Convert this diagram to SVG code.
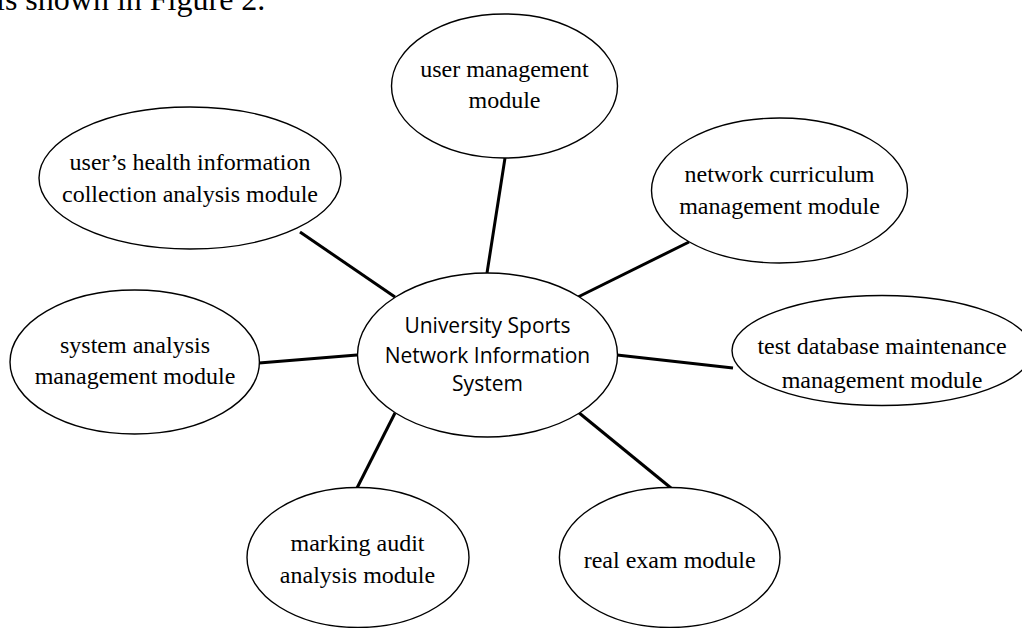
<svg xmlns="http://www.w3.org/2000/svg" width="1022" height="628" viewBox="0 0 1022 628">
  <style>
    .node { fill: #ffffff; stroke: #000000; stroke-width: 1.4; }
    .label { font-family: "Liberation Serif", "Times New Roman", serif; font-size: 24px; fill: #000000; text-anchor: middle; }
    .hub { font-family: "Open Sans", "Noto Sans", sans-serif; font-size: 21px; fill: #000000; text-anchor: middle; }
    .link { stroke: #000000; stroke-width: 3; fill: none; stroke-linecap: butt; }
    .body { font-family: "Liberation Serif", "Times New Roman", serif; font-size: 32px; fill: #000000; }
  </style>
  <rect x="0" y="0" width="1022" height="628" fill="#ffffff"/>

  <!-- running text line above the figure -->
  <text class="body" x="-4" y="10">is shown in Figure 2.</text>

  <!-- spokes from the central system to each module -->
  <g id="connectors">
    <line class="link" x1="505" y1="158" x2="487" y2="273"/>
    <line class="link" x1="689" y1="242" x2="578" y2="297"/>
    <line class="link" x1="300" y1="232" x2="395" y2="297"/>
    <line class="link" x1="259" y1="363" x2="357" y2="355"/>
    <line class="link" x1="617" y1="355" x2="733" y2="368"/>
    <line class="link" x1="395" y1="413" x2="357" y2="488"/>
    <line class="link" x1="578" y1="412" x2="671" y2="488"/>
  </g>

  <g id="hub">
    <ellipse class="node" cx="487.5" cy="355" rx="130" ry="82"/>
    <text class="hub" x="487.5" y="333">University Sports</text>
    <text class="hub" x="487.5" y="363">Network Information</text>
    <text class="hub" x="487.5" y="391">System</text>
  </g>

  <g id="user-management">
    <ellipse class="node" cx="504.5" cy="86" rx="113" ry="72"/>
    <text class="label" x="504.5" y="77">user management</text>
    <text class="label" x="504.5" y="108">module</text>
  </g>

  <g id="network-curriculum">
    <ellipse class="node" cx="779.5" cy="190.5" rx="128" ry="72.5"/>
    <text class="label" x="779.5" y="182">network curriculum</text>
    <text class="label" x="779.5" y="214">management module</text>
  </g>

  <g id="test-database">
    <ellipse class="node" cx="882" cy="350.5" rx="150" ry="55"/>
    <text class="label" x="882" y="354">test database maintenance</text>
    <text class="label" x="882" y="388">management module</text>
  </g>

  <g id="health-information">
    <ellipse class="node" cx="190" cy="178" rx="151" ry="71"/>
    <text class="label" x="190" y="170">user’s health information</text>
    <text class="label" x="190" y="201.5">collection analysis module</text>
  </g>

  <g id="system-analysis">
    <ellipse class="node" cx="134.7" cy="362" rx="124.7" ry="72"/>
    <text class="label" x="135" y="352.5">system analysis</text>
    <text class="label" x="135" y="384">management module</text>
  </g>

  <g id="marking-audit">
    <ellipse class="node" cx="358" cy="557.5" rx="111" ry="70"/>
    <text class="label" x="357.5" y="551">marking audit</text>
    <text class="label" x="357.5" y="583">analysis module</text>
  </g>

  <g id="real-exam">
    <ellipse class="node" cx="669.7" cy="557.5" rx="110.3" ry="70"/>
    <text class="label" x="669.7" y="568">real exam module</text>
  </g>
</svg>
